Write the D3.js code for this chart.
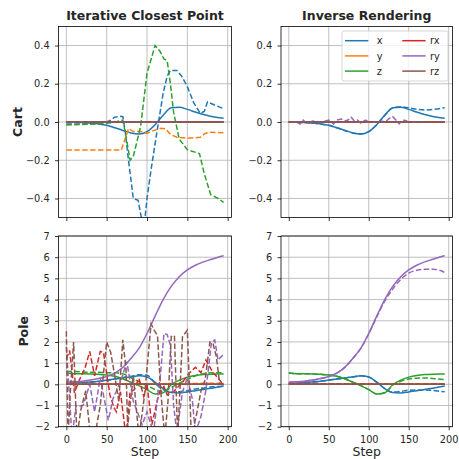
<!DOCTYPE html>
<html>
<head>
<meta charset="utf-8">
<script src="https://cdn.jsdelivr.net/npm/d3@7"></script>
<style>
  body { margin: 0; background: #fff; }
  text { font-family: "DejaVu Sans", sans-serif; fill: #262626; }
</style>
</head>
<body>
<div id="chart"></div>
<script>
// ---------------- data ----------------
const dims   = ["x", "y", "z", "rx", "ry", "rz"];
const colors = ["#1f77b4", "#ff7f0e", "#2ca02c", "#d62728", "#9467bd", "#8c564b"];

const steps10  = [0,10,20,30,40,50,60,70,80,90,100,110,120,130,140,150,160,170,180,190,195];
const flatSteps = [0, 195];
const flatZero  = [0, 0];

// Cart, ground truth + inverse rendering
const cartXTrue = [0,-0.001,-0.003,-0.006,-0.01,-0.017,-0.03,-0.044,-0.057,-0.063,-0.05,-0.014,0.035,0.074,0.077,0.066,0.052,0.039,0.029,0.022,0.019];
const cartXInv  = [0,-0.001,-0.003,-0.006,-0.01,-0.017,-0.03,-0.044,-0.057,-0.063,-0.05,-0.014,0.035,0.074,0.08,0.074,0.067,0.063,0.065,0.071,0.075];
const cartRyInvSteps = [0,10,14,18,22,30,40,50,56,60,66,70,74,78,82,86,90,96,100,110,122,126,130,134,138,142,146,150,160,195];
const cartRyInv      = [0,0,-0.01,0.01,-0.005,0.005,0,0.01,-0.01,0.01,0.015,0.005,0.01,0.025,0.005,0.01,-0.005,0.01,0,0,0.005,0.02,0.028,0.01,-0.01,0.01,0.008,0,0,0];

// Cart, ICP estimates
const icpCartXSteps = [0,20,40,50,55,60,66,70,73,77,83,89,93,97,100,105,112,120,125,129,137,143,150,158,166,171,175,183,195];
const icpCartX      = [-0.01,-0.01,-0.008,0,0.01,0.025,0.03,0.028,-0.05,-0.2,-0.4,-0.41,-0.5,-0.52,-0.4,-0.25,-0.06,0.15,0.24,0.27,0.27,0.24,0.185,0.1,0.045,0.055,0.105,0.09,0.07];
const icpCartYSteps = [0,68,72,77,83,92,100,108,117,123,129,137,150,166,172,178,195];
const icpCartY      = [-0.147,-0.147,-0.1,-0.035,-0.05,-0.05,-0.06,-0.045,-0.033,-0.035,-0.065,-0.08,-0.085,-0.08,-0.06,-0.054,-0.056];
const icpCartZSteps = [0,40,58,70,75,79,83,92,100,110,116,121,125,129,133,140,150,165,171,179,188,195];
const icpCartZ      = [-0.016,-0.01,-0.003,0.01,-0.1,-0.2,-0.18,-0.025,0.255,0.4,0.37,0.33,0.32,0.2,0.05,-0.09,-0.145,-0.165,-0.27,-0.38,-0.4,-0.42];

// Pole, ground truth + inverse rendering
const poleXTrue  = [0.05,0.06,0.08,0.11,0.15,0.2,0.25,0.3,0.35,0.4,0.35,0.1,-0.2,-0.39,-0.41,-0.36,-0.3,-0.24,-0.18,-0.11,-0.08];
const poleXInv   = [0.05,0.06,0.08,0.11,0.15,0.2,0.25,0.3,0.35,0.4,0.35,0.1,-0.2,-0.37,-0.33,-0.28,-0.27,-0.27,-0.29,-0.33,-0.35];
const poleZTrue  = [0.53,0.5,0.5,0.49,0.47,0.44,0.38,0.26,0.1,-0.06,-0.25,-0.46,-0.4,-0.02,0.2,0.34,0.42,0.46,0.48,0.49,0.49];
const poleZInv   = [0.53,0.5,0.5,0.49,0.47,0.44,0.38,0.26,0.1,-0.06,-0.25,-0.46,-0.4,-0.04,0.14,0.25,0.29,0.3,0.28,0.24,0.22];
const poleRyTrue = [0.1,0.12,0.15,0.2,0.27,0.37,0.53,0.8,1.22,1.7,2.4,3.22,4.0,4.62,5.08,5.4,5.62,5.78,5.9,6.02,6.07];
const poleRyInv  = [0.1,0.12,0.15,0.2,0.27,0.37,0.53,0.8,1.22,1.7,2.38,3.18,3.93,4.5,4.95,5.25,5.38,5.43,5.43,5.37,5.27];

// Pole, ICP estimates
const icpPoleX = [0.03,0.05,0.08,0.1,0.13,0.18,0.25,0.32,0.38,0.45,0.43,0.05,-0.25,-0.38,-0.35,-0.3,-0.22,-0.18,-0.12,-0.1,-0.08];
const icpPoleY = [0.02,0.02,0.03,0.02,0.03,0.03,0.02,0.03,0.02,0.03,0.02,0.03,0.03,0.04,0.03,0.04,0.04,0.05,0.05,0.05,0.05];
const icpPoleZ = [0.6,0.6,0.58,0.57,0.57,0.55,0.55,0.5,0.32,0.12,-0.05,-0.25,-0.35,-0.15,0.05,0.22,0.4,0.5,0.55,0.55,0.55];
const icpPoleRxSteps = [0,4,10,16,23,29,35,42,46,54,59,62,67,74,79,84,90,96,100,106,115,121,125,133,144,152,160,167,173,181,188,195];
const icpPoleRx      = [1.2,1.6,-0.4,0.2,0.75,1.55,0.4,1.55,1.5,-0.5,-1.1,-1.3,-0.35,-2.5,-0.35,-0.27,0.28,-0.58,0,-1.9,-0.4,-0.1,-0.5,-0.35,0.1,0.52,0.8,0.55,1.15,0.6,0.3,-0.03];
const icpPoleRySteps = [0,3,7,12,15,21,29,35,42,52,58,67,75,83,94,100,108,112,117,121,125,129,133,137,144,150,156,160,167,173,180,184,188,194];
const icpPoleRy      = [1.77,-0.1,-2.5,-1.0,-1.05,-0.98,0,-1.3,0.3,-1.7,-0.66,0.1,1.07,-0.8,-1.9,-1.3,-2.3,-1,0.6,2.4,2.35,1.85,-1,-2.3,-0.35,0.3,-0.66,-2.3,-1.5,-0.27,2.0,2.09,1.15,1.38];
const icpPoleRzSteps = [0,2,5,9,13,18,24,30,36,42,46,50,55,60,65,70,74,76,83,90,97,105,109,113,117,122,126,130,134,138,144,150,155,161,167,172,178,182,186,190,195];
const icpPoleRz      = [2.5,-2.5,-0.3,2.0,-2.5,-1.2,-0.3,-2.5,-2.3,-1.0,0.5,2.0,1.5,0.4,-0.8,2.1,0.7,-2.0,0.4,-2.5,-0.5,2.85,2.55,2.3,-0.3,-2.5,-0.8,2.25,2.3,-2.5,2.25,2.56,-2.5,-1.5,-0.3,0.2,2.0,1.9,1.3,0.05,0.0];

const xTicks = [0, 50, 100, 150, 200];
const cartTicks = [-0.4, -0.2, 0, 0.2, 0.4];
const poleTicks = [-2, -1, 0, 1, 2, 3, 4, 5, 6, 7];
const titles = ["Iterative Closest Point", "Inverse Rendering"];
const rowLabels = ["Cart", "Pole"];

// ---------------- layout ----------------
const conf = { width: 459, height: 459 };
const cols = [{ x0: 58.5, x1: 231.5 }, { x0: 281, x1: 452.5 }];
const rows = [{ y0: 26.4, y1: 217.6, dom: [-0.5, 0.5], ticks: cartTicks, fmt: d => d.toFixed(1) },
              { y0: 236, y1: 426.7, dom: [-2, 7], ticks: poleTicks, fmt: d => String(d) }];
const minus = s => s.replace("-", "\u2212");

const svg = d3.select("#chart").append("svg")
    .attr("width", conf.width)
    .attr("height", conf.height);

// one entry per line: [steps, values, linear?] for truth and estimate of each dim
const trueCart = [[steps10, cartXTrue], [flatSteps, flatZero], [flatSteps, flatZero], [flatSteps, flatZero], [flatSteps, flatZero], [flatSteps, flatZero]];
const truePole = [[steps10, poleXTrue], [flatSteps, flatZero], [steps10, poleZTrue], [flatSteps, flatZero], [steps10, poleRyTrue], [flatSteps, flatZero]];
const panels = [
  { r: 0, c: 0, truth: trueCart,
    est: [[icpCartXSteps, icpCartX, 1], [icpCartYSteps, icpCartY, 1], [icpCartZSteps, icpCartZ, 1], [flatSteps, flatZero], [flatSteps, flatZero], [flatSteps, flatZero]] },
  { r: 0, c: 1, truth: trueCart,
    est: [[steps10, cartXInv], [flatSteps, flatZero], [flatSteps, flatZero], [flatSteps, flatZero], [cartRyInvSteps, cartRyInv, 1], [flatSteps, flatZero]] },
  { r: 1, c: 0, truth: truePole,
    est: [[steps10, icpPoleX], [steps10, icpPoleY], [steps10, icpPoleZ], [icpPoleRxSteps, icpPoleRx, 1], [icpPoleRySteps, icpPoleRy, 1], [icpPoleRzSteps, icpPoleRz, 1]] },
  { r: 1, c: 1, truth: truePole,
    est: [[steps10, poleXInv], [flatSteps, flatZero], [steps10, poleZInv], [flatSteps, flatZero], [steps10, poleRyInv], [flatSteps, flatZero]] }
];

panels.forEach((p, k) => {
  const col = cols[p.c], row = rows[p.r];
  const x = d3.scaleLinear().domain([-9.75, 204.75]).range([col.x0, col.x1]);
  const y = d3.scaleLinear().domain(row.dom).range([row.y1, row.y0]);
  const g = svg.append("g");

  svg.append("clipPath").attr("id", "clip" + k)
    .append("rect")
      .attr("x", col.x0).attr("y", row.y0)
      .attr("width", col.x1 - col.x0).attr("height", row.y1 - row.y0);

  // grid
  g.append("g").selectAll("line").data(xTicks).enter().append("line")
      .attr("x1", d => x(d)).attr("x2", d => x(d))
      .attr("y1", row.y0).attr("y2", row.y1)
      .attr("stroke", "#b0b0b0").attr("stroke-width", 0.8);
  g.append("g").selectAll("line").data(row.ticks).enter().append("line")
      .attr("x1", col.x0).attr("x2", col.x1)
      .attr("y1", d => y(d)).attr("y2", d => y(d))
      .attr("stroke", "#b0b0b0").attr("stroke-width", 0.8);

  // lines: truth solid, estimate dashed
  const lines = g.append("g").attr("clip-path", "url(#clip" + k + ")");
  dims.forEach((dim, i) => {
    [[p.truth[i], null], [p.est[i], "5.5,2.4"]].forEach(([s, dash]) => {
      const pts = s[0].map((t, j) => [t, s[1][j]]);
      const line = d3.line()
          .x(d => x(d[0])).y(d => y(d[1]))
          .curve(s[2] ? d3.curveLinear : d3.curveMonotoneX);
      lines.append("path")
          .attr("d", line(pts))
          .attr("fill", "none")
          .attr("stroke", colors[i])
          .attr("stroke-width", 1.5)
          .attr("stroke-dasharray", dash);
    });
  });

  // axes
  const xAxis = d3.axisBottom(x).tickValues(xTicks).tickSize(3.5).tickPadding(5.6)
      .tickFormat(p.r === 1 ? (d => String(d)) : "");
  const yAxis = d3.axisLeft(y).tickValues(row.ticks).tickSize(3.5).tickPadding(5.3)
      .tickFormat(d => minus(row.fmt(d)));
  const ax = g.append("g").attr("transform", `translate(0,${row.y1})`).call(xAxis);
  const ay = g.append("g").attr("transform", `translate(${col.x0},0)`).call(yAxis);
  [ax, ay].forEach(a => {
    a.select(".domain").remove();
    a.selectAll("line").attr("stroke", "#000").attr("stroke-width", 0.8);
    a.selectAll("text").style("font-size", "9.8px").attr("fill", "#262626")
        .style("font-family", "DejaVu Sans");
  });

  g.append("rect")
      .attr("x", col.x0).attr("y", row.y0)
      .attr("width", col.x1 - col.x0).attr("height", row.y1 - row.y0)
      .attr("fill", "none").attr("stroke", "#000").attr("stroke-width", 0.8);

  const cx = (col.x0 + col.x1) / 2;
  if (p.r === 0) {
    g.append("text").attr("x", cx).attr("y", 20)
        .attr("text-anchor", "middle").attr("font-weight", "bold")
        .style("font-size", "12.5px").text(titles[p.c]);
  } else {
    g.append("text").attr("x", cx).attr("y", 455.8)
        .attr("text-anchor", "middle")
        .style("font-size", "12.5px").text("Step");
  }
  if (p.c === 0) {
    const lx = p.r === 0 ? 21.6 : 28.3;
    const ly = (row.y0 + row.y1) / 2;
    g.append("text")
        .attr("transform", `translate(${lx},${ly}) rotate(-90)`)
        .attr("text-anchor", "middle").attr("font-weight", "bold")
        .style("font-size", "12.5px").text(rowLabels[p.r]);
  }
});

// legend (top right panel)
const leg = svg.append("g");
leg.append("rect")
    .attr("x", 342).attr("y", 31).attr("width", 106).attr("height", 50).attr("rx", 2)
    .attr("fill", "#fff").attr("fill-opacity", 0.8)
    .attr("stroke", "#ccc").attr("stroke-width", 0.8);
const item = leg.selectAll("g.item").data(dims).enter().append("g")
    .attr("class", "item")
    .attr("transform", (d, i) => `translate(${i < 3 ? 345 : 402.3},${40.7 + (i % 3) * 15.2})`);
item.append("line")
    .attr("x1", 0).attr("x2", 23.3)
    .attr("stroke", (d, i) => colors[i]).attr("stroke-width", 1.5);
item.append("text")
    .attr("x", (d, i) => i < 3 ? 31.7 : 27.7).attr("y", 3.6)
    .style("font-size", "9.8px").text(d => d);
</script>
</body>
</html>
